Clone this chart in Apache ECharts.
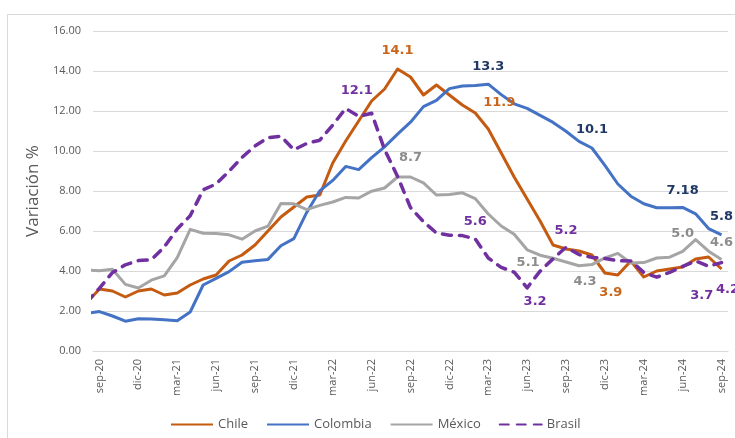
<!DOCTYPE html>
<html>
<head>
<meta charset="utf-8">
<script src="https://cdn.jsdelivr.net/npm/echarts@6/dist/echarts.min.js"></script>
<style>
  html, body { margin: 0; padding: 0; background: #fff; }
  #chart { width: 735px; height: 438px; }
</style>
</head>
<body>
<div id="chart"></div>
<script>
// meses (ago-20 queda fuera del área, solo se ve el tramo recortado)
const months = [
  'ago-20', 'sep-20', 'oct-20', 'nov-20', 'dic-20',
  'ene-21', 'feb-21', 'mar-21', 'abr-21', 'may-21', 'jun-21', 'jul-21', 'ago-21', 'sep-21', 'oct-21', 'nov-21', 'dic-21',
  'ene-22', 'feb-22', 'mar-22', 'abr-22', 'may-22', 'jun-22', 'jul-22', 'ago-22', 'sep-22', 'oct-22', 'nov-22', 'dic-22',
  'ene-23', 'feb-23', 'mar-23', 'abr-23', 'may-23', 'jun-23', 'jul-23', 'ago-23', 'sep-23', 'oct-23', 'nov-23', 'dic-23',
  'ene-24', 'feb-24', 'mar-24', 'abr-24', 'may-24', 'jun-24', 'jul-24', 'ago-24', 'sep-24'
]
const tickLabels = ['sep-20', 'dic-20', 'mar-21', 'jun-21', 'sep-21', 'dic-21', 'mar-22', 'jun-22', 'sep-22',
  'dic-22', 'mar-23', 'jun-23', 'sep-23', 'dic-23', 'mar-24', 'jun-24', 'sep-24']

const chile = [2.4, 3.1, 3.0, 2.7, 3.0,
  3.1, 2.8, 2.9, 3.3, 3.6, 3.8, 4.5, 4.8, 5.3, 6.0, 6.7, 7.2,
  7.7, 7.8, 9.4, 10.5, 11.5, 12.5, 13.1, 14.1, 13.7, 12.8, 13.3, 12.8,
  12.3, 11.9, 11.1, 9.9, 8.7, 7.6, 6.5, 5.3, 5.1, 5.0, 4.8, 3.9,
  3.8, 4.5, 3.7, 4.0, 4.1, 4.2, 4.6, 4.7, 4.1]
const colombia = [1.88, 1.97, 1.75, 1.49, 1.61,
  1.60, 1.56, 1.51, 1.95, 3.30, 3.63, 3.97, 4.44, 4.51, 4.58, 5.26, 5.62,
  6.94, 8.01, 8.53, 9.23, 9.07, 9.67, 10.21, 10.84, 11.44, 12.22, 12.53, 13.12,
  13.25, 13.28, 13.34, 12.82, 12.36, 12.13, 11.78, 11.43, 10.99, 10.48, 10.15, 9.28,
  8.35, 7.74, 7.36, 7.16, 7.16, 7.18, 6.86, 6.12, 5.81]
const mexico = [4.05, 4.01, 4.09, 3.33, 3.15,
  3.54, 3.76, 4.67, 6.08, 5.89, 5.88, 5.81, 5.59, 6.00, 6.24, 7.37, 7.36,
  7.07, 7.28, 7.45, 7.68, 7.65, 7.99, 8.15, 8.70, 8.70, 8.41, 7.80, 7.82,
  7.91, 7.62, 6.85, 6.25, 5.84, 5.06, 4.79, 4.64, 4.45, 4.26, 4.32, 4.66,
  4.88, 4.40, 4.42, 4.65, 4.69, 4.98, 5.57, 4.99, 4.58]
const brasil = [2.44, 3.14, 3.92, 4.31, 4.52,
  4.56, 5.20, 6.10, 6.76, 8.06, 8.35, 8.99, 9.68, 10.25, 10.67, 10.74, 10.06,
  10.38, 10.54, 11.30, 12.13, 11.73, 11.89, 10.07, 8.73, 7.17, 6.47, 5.90, 5.79,
  5.77, 5.60, 4.65, 4.18, 3.94, 3.16, 3.99, 4.61, 5.19, 4.82, 4.68, 4.62,
  4.51, 4.50, 3.93, 3.69, 3.93, 4.23, 4.50, 4.24, 4.42]

// etiquetas de datos (texto como en el gráfico)
const chileLabels = [
  { month: 'ago-22', text: '14.1', offset: [0, -18] },
  { month: 'feb-23', text: '11.9', offset: [24, -10] },
  { month: 'dic-23', text: '3.9', offset: [6, 20] }
]
const colombiaLabels = [
  { month: 'mar-23', text: '13.3', offset: [0, -18] },
  { month: 'nov-23', text: '10.1', offset: [0, -18] },
  { month: 'jun-24', text: '7.18', offset: [0, -17] },
  { month: 'sep-24', text: '5.8', offset: [0, -18] }
]
const mexicoLabels = [
  { month: 'sep-22', text: '8.7', offset: [0, -19] },
  { month: 'jun-23', text: '5.1', offset: [1, 13] },
  { month: 'oct-23', text: '4.3', offset: [6, 16] },
  { month: 'jun-24', text: '5.0', offset: [0, -18] },
  { month: 'sep-24', text: '4.6', offset: [0, -17] }
]
const brasilLabels = [
  { month: 'abr-22', text: '12.1', offset: [11, -18] },
  { month: 'feb-23', text: '5.6', offset: [0, -17] },
  { month: 'jun-23', text: '3.2', offset: [8, 14] },
  { month: 'sep-23', text: '5.2', offset: [0, -17] },
  { month: 'abr-24', text: '3.7', offset: [45, 18] },
  { month: 'sep-24', text: '4.2', offset: [6, 27] }
]

function buildData(values, labels, color) {
  return values.map((v, k) => {
    const item = { value: [k - 1, v] }
    const lab = labels.find(l => months.indexOf(l.month) === k)
    if (lab) {
      item.label = {
        show: true,
        position: 'inside',
        formatter: lab.text,
        offset: lab.offset,
        color: color,
        fontFamily: 'DejaVu Sans',
        fontWeight: 'bold',
        fontSize: 13
      }
    }
    return item
  })
}

function lineSeries(name, values, labels, color, labelColor, dashed) {
  return {
    name: name,
    type: 'line',
    data: buildData(values, labels, labelColor),
    showSymbol: true,
    symbol: 'circle',
    symbolSize: 1,
    itemStyle: { color: 'transparent', borderWidth: 0 },
    lineStyle: {
      color: color,
      width: dashed ? 3.5 : 3,
      type: dashed ? [9, 8] : 'solid',
      cap: dashed ? 'round' : 'butt',
      join: 'round'
    },
    label: { show: false },
    emphasis: { disabled: true },
    clip: true
  }
}

const myChart = echarts.init(document.getElementById('chart'))
const option = {
  animation: false,
  backgroundColor: '#fff',
  graphic: [{
    type: 'rect',
    shape: { x: 7.5, y: 14.5, width: 740, height: 440 },
    style: { fill: 'none', stroke: '#D9D9D9', lineWidth: 1 },
    silent: true
  }],
  grid: { left: 93, right: 7, top: 31, bottom: 87, containLabel: false },
  legend: {
    left: 165,
    top: 413,
    itemWidth: 42,
    itemHeight: 10,
    itemGap: 18,
    textStyle: { color: '#595959', fontSize: 13, fontFamily: 'Open Sans' },
    data: ['Chile', 'Colombia', 'México', 'Brasil']
  },
  xAxis: {
    type: 'value',
    min: -0.5,
    max: 48.5,
    axisLine: { show: true, lineStyle: { color: '#D9D9D9', width: 1 } },
    axisTick: { show: false },
    splitLine: { show: false },
    axisLabel: {
      customValues: tickLabels.map((_, j) => j * 3),
      formatter: v => tickLabels[Math.round(v / 3)],
      rotate: 90,
      margin: 8,
      color: '#595959',
      fontSize: 11,
      fontFamily: 'Open Sans'
    }
  },
  yAxis: {
    type: 'value',
    min: 0,
    max: 16,
    interval: 2,
    name: 'Variación %',
    nameLocation: 'middle',
    nameGap: 51,
    nameTextStyle: { color: '#595959', fontSize: 17, fontFamily: 'Open Sans' },
    axisLine: { show: false },
    axisTick: { show: false },
    splitLine: { show: true, lineStyle: { color: '#D9D9D9', width: 1 } },
    axisLabel: {
      formatter: v => v.toFixed(2),
      margin: 12,
      color: '#595959',
      fontSize: 11,
      fontFamily: 'Open Sans'
    }
  },
  series: [
    lineSeries('Chile', chile, chileLabels, '#C55A11', '#C8651B', false),
    lineSeries('Colombia', colombia, colombiaLabels, '#4472C4', '#1F3864', false),
    lineSeries('México', mexico, mexicoLabels, '#A5A5A5', '#8C8C8C', false),
    lineSeries('Brasil', brasil, brasilLabels, '#7030A0', '#7030A0', true)
  ]
}
myChart.setOption(option)
</script>
</body>
</html>
